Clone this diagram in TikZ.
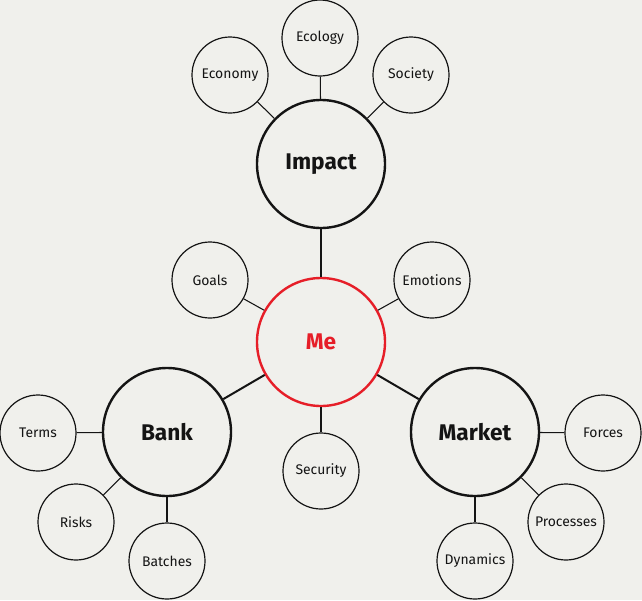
\documentclass[tikz,border=0pt]{standalone}
\usepackage{fontspec}
\setmainfont{Fira Sans}
\usetikzlibrary{positioning}
\definecolor{cbg}{RGB}{240,240,236}
\definecolor{cme}{RGB}{230,30,40}
\definecolor{cink}{RGB}{20,20,20}
\tikzset{
  hub/.style={circle, draw=cink, line width=1.8pt, minimum size=96pt, inner sep=0pt, font=\fontsize{17}{20}\selectfont\bfseries, text=cink},
  leaf/.style={circle, draw=cink, line width=0.9pt, minimum size=57pt, inner sep=0pt, font=\fontsize{11}{13}\selectfont\addfontfeature{Scale=0.95}, text=cink},
  strong/.style={draw=cink, line width=1.5pt},
  weak/.style={draw=cink, line width=0.8pt}
}
\begin{document}
\begin{tikzpicture}[x=0.75pt, y=-0.75pt]
  \fill[cbg] (0,0) rectangle (642,600);
  \useasboundingbox (0,0) rectangle (642,600);
  % hubs
  \node[hub, draw=cme, text=cme] (me) at (321,342) {Me};
  \node[hub] (impact) at (321,164) {Impact};
  \node[hub] (bank) at (167,432) {Bank};
  \node[hub] (market) at (475,432) {Market};
  % leaves
  \node[leaf] (ecology) at (320,38) {Ecology};
  \node[leaf] (economy) at (230,75) {Economy};
  \node[leaf] (society) at (411,75) {Society};
  \node[leaf] (goals) at (210,280) {Goals};
  \node[leaf] (emotions) at (432,280) {Emotions};
  \node[leaf] (security) at (321,471) {Security};
  \node[leaf] (terms) at (38,433) {Terms};
  \node[leaf] (risks) at (76,522) {Risks};
  \node[leaf] (batches) at (167,561) {Batches};
  \node[leaf] (forces) at (603,433) {Forces};
  \node[leaf] (processes) at (566,522) {Processes};
  \node[leaf] (dynamics) at (475,561) {Dynamics};
  % links
  \draw[strong] (me) -- (impact);
  \draw[strong] (me) -- (bank);
  \draw[strong] (me) -- (market);
  \foreach \a/\b in {me/goals, me/emotions, me/security,
      impact/ecology, impact/economy, impact/society,
      bank/terms, bank/risks, bank/batches,
      market/forces, market/processes, market/dynamics}
    \draw[weak] (\a) -- (\b);
\end{tikzpicture}
\end{document}
